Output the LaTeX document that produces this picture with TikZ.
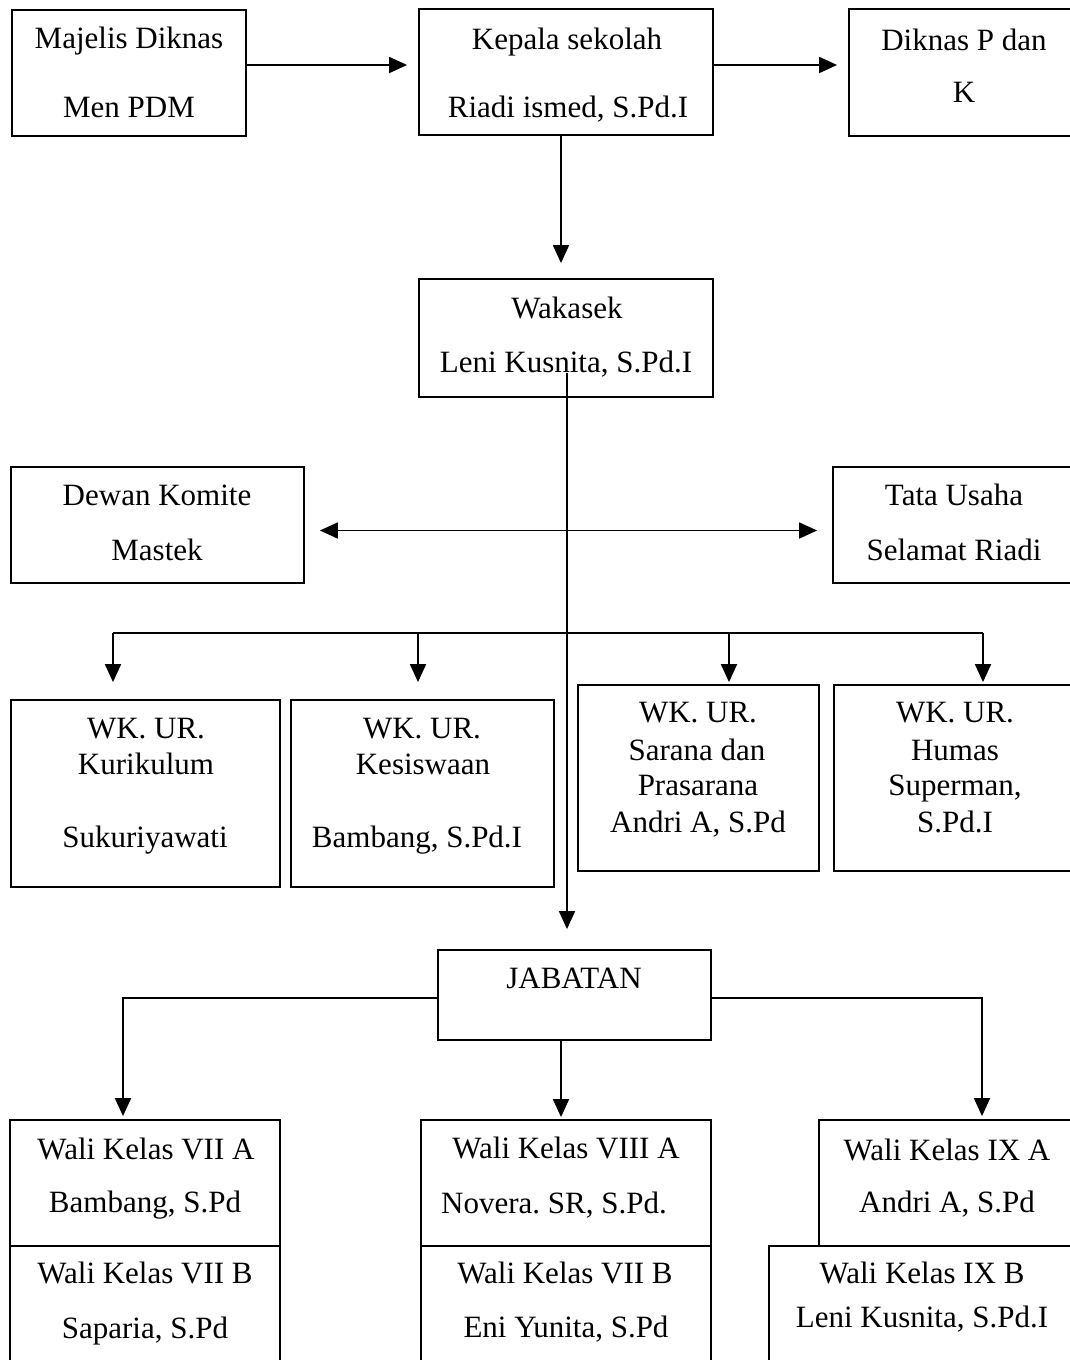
\documentclass[tikz,border=0pt]{standalone}
\usepackage{fontspec}
\setmainfont{Liberation Serif}
\usetikzlibrary{arrows.meta}
\frenchspacing
\tikzset{
  box/.style={draw=black, line width=1.8pt, inner sep=0pt, fill=none},
  txt/.style={inner sep=0pt, anchor=base, font=\fontsize{31}{37}\selectfont},
  conn/.style={line width=1.8pt},
  arr/.style={line width=1.8pt, -{Triangle[length=18pt,width=16pt]}},
  arrboth/.style={line width=1.8pt, {Triangle[length=18pt,width=16pt]}-{Triangle[length=18pt,width=16pt]}}
}
\newcommand\bx[5]{\node[box, minimum width={#4-#2}, minimum height={#5-#3}] (#1) at ({(#2+#4)/2},{(#3+#5)/2}) {};}
\newcommand\tx[4]{\node[txt] (#1) at (#2,#3) {#4};}
\begin{document}
\begin{tikzpicture}[x=1pt,y=-1pt]
\useasboundingbox (0,0) rectangle (1070,1360);
\fill[white] (0,0) rectangle (1070,1360);
\clip (0,0) rectangle (1070,1360);
% boxes
\bx{maj}{12}{10}{246}{136}
\bx{kep}{419}{9}{713}{135}
\bx{dik}{849}{9}{1085}{136}
\bx{wak}{419}{279}{713}{397}
\bx{dew}{11}{467}{304}{583}
\bx{tata}{833}{467}{1085}{583}
\bx{wka}{11}{700}{280}{887}
\bx{wkb}{291}{700}{554}{887}
\bx{wkc}{578}{685}{819}{871}
\bx{wkd}{834}{685}{1085}{871}
\bx{jab}{438}{950}{711}{1040}
\bx{bat}{10}{1120}{280}{1246}
\bx{bab}{10}{1246}{280}{1385}
\bx{bbt}{421}{1120}{711}{1246}
\bx{bbb}{421}{1246}{711}{1385}
\bx{bct}{819}{1120}{1085}{1246}
\bx{bcb}{769}{1246}{1085}{1385}
% texts
\tx{t1}{129}{48}{Majelis Diknas}
\tx{t2}{129}{117}{Men PDM}
\tx{t3}{567}{49}{Kepala sekolah}
\tx{t4}{568}{117}{Riadi ismed, S.Pd.I}
\tx{t5}{964}{50}{Diknas P dan}
\tx{t6}{964}{102}{K}
\tx{t7}{567}{318}{Wakasek}
\tx{t8}{566}{372}{Leni Kusnita, S.Pd.I}
\tx{t9}{157}{505}{Dewan Komite}
\tx{t10}{157}{560}{Mastek}
\tx{t11}{954}{505}{Tata Usaha}
\tx{t12}{954}{560}{Selamat Riadi}
\tx{a1}{146}{738}{WK. UR.}
\tx{a2}{146}{774}{Kurikulum}
\tx{a3}{145}{847}{Sukuriyawati}
\tx{b1}{422}{738}{WK. UR.}
\tx{b2}{423}{774}{Kesiswaan}
\tx{b3}{417}{847}{Bambang, S.Pd.I}
\tx{c1}{698}{722}{WK. UR.}
\tx{c2}{697}{760}{Sarana dan}
\tx{c3}{698}{795}{Prasarana}
\tx{c4}{698}{832}{Andri A, S.Pd}
\tx{d1}{955}{722}{WK. UR.}
\tx{d2}{955}{760}{Humas}
\tx{d3}{955}{795}{Superman,}
\tx{d4}{955}{832}{S.Pd.I}
\tx{j1}{574}{988}{JABATAN}
\tx{e1}{146}{1159}{Wali Kelas VII A}
\tx{e2}{145}{1212}{Bambang, S.Pd}
\tx{e3}{145}{1283}{Wali Kelas VII B}
\tx{e4}{145}{1338}{Saparia, S.Pd}
\tx{f1}{566}{1158}{Wali Kelas VIII A}
\tx{f2}{554}{1213}{Novera. SR, S.Pd.}
\tx{f3}{565}{1283}{Wali Kelas VII B}
\tx{f4}{566}{1337}{Eni Yunita, S.Pd}
\tx{g1}{947}{1160}{Wali Kelas IX A}
\tx{g2}{947}{1212}{Andri A, S.Pd}
\tx{g3}{922}{1283}{Wali Kelas IX B}
\tx{g4}{922}{1327}{Leni Kusnita, S.Pd.I}
% connectors
\draw[arr, shorten >=11pt] ([yshift=8pt]maj.east) -- ([yshift=7pt]kep.west);
\draw[arr, shorten >=11pt] ([yshift=7pt]kep.east) -- ([yshift=7.5pt]dik.west);
\draw[arr, shorten >=15pt] ([xshift=-5pt]kep.south) -- ([xshift=-5pt]wak.north);
\coordinate (ws) at (567,373);
\draw[arr, shorten >=20pt] (ws) -- (ws |- jab.north);
\draw[arrboth, shorten <=15pt, shorten >=15pt] ([yshift=-5.5pt]dew.east) -- ([yshift=-5.5pt]tata.west);
\coordinate (h1) at (113,633);
\coordinate (h2) at (418,633);
\coordinate (h3) at (729,633);
\coordinate (h4) at (983,633);
\draw[conn] (h1) -- (h4);
\draw[arr, shorten >=17pt] (h1) -- (h1 |- wka.north);
\draw[arr, shorten >=17pt] (h2) -- (h2 |- wkb.north);
\draw[arr, shorten >=2pt] (h3) -- (h3 |- wkc.north);
\draw[arr, shorten >=2pt] (h4) -- (h4 |- wkd.north);
\coordinate (v1) at (123,998);
\coordinate (v3) at (982,998);
\coordinate (m1) at (561,1040);
\draw[arr, shorten >=3pt] ([yshift=-3pt]jab.west) -- (v1) -- (v1 |- bat.north);
\draw[arr, shorten >=3pt] ([yshift=-3pt]jab.east) -- (v3) -- (v3 |- bct.north);
\draw[arr, shorten >=2pt] (m1) -- (m1 |- bbt.north);
\end{tikzpicture}
\end{document}
